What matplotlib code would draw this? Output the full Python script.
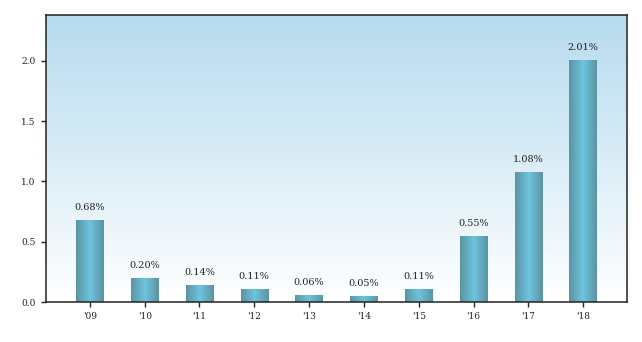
import numpy as np
import matplotlib
matplotlib.use("Agg")
import matplotlib.pyplot as plt
from matplotlib.colors import LinearSegmentedColormap

years = ["'09", "'10", "'11", "'12", "'13", "'14", "'15", "'16", "'17", "'18"]
values = [0.68, 0.20, 0.14, 0.11, 0.06, 0.05, 0.11, 0.55, 1.08, 2.01]
labels = ["0.68%", "0.20%", "0.14%", "0.11%", "0.06%", "0.05%", "0.11%", "0.55%", "1.08%", "2.01%"]

plt.rcParams['font.family'] = ['DejaVu Serif']

fig = plt.figure(figsize=(6.42, 3.42), dpi=100)
ax = fig.add_axes([46/642, 1-302/342, (627-46)/642, (302-15)/342])

x = np.arange(len(values))
ymax = 2.38
ax.set_xlim(-0.8, len(values) - 0.2)
ax.set_ylim(0, ymax)

# background gradient
bg = LinearSegmentedColormap.from_list("bg", [(0, "#ffffff"), (0.55, "#d6ebf6"), (1, "#b7dbef")])
grad = np.linspace(0, 1, 256).reshape(-1, 1)
ax.imshow(grad, cmap=bg, aspect='auto', extent=[-0.8, len(values) - 0.2, 0, ymax],
          origin='lower', zorder=0, vmin=0, vmax=1)

bars = ax.bar(x, values, width=0.5, color='none', zorder=2)
barcm = LinearSegmentedColormap.from_list("bar", ["#5a94a3", "#6cc4de", "#5a94a3"])
hgrad = np.linspace(0, 1, 256).reshape(1, -1)
for b in bars:
    x0, y0 = b.get_x(), b.get_y()
    w, h = b.get_width(), b.get_height()
    im = ax.imshow(hgrad, cmap=barcm, aspect='auto', extent=[x0, x0 + w, y0, y0 + h],
                   zorder=2, vmin=0, vmax=1)
    im.set_clip_path(b)

for xi, v, lab in zip(x, values, labels):
    ax.text(xi, v + 0.065, lab, ha='center', va='bottom', fontsize=7, color='#222222')

ax.set_xticks(x)
ax.set_xticklabels(years, fontsize=6.5, color='#222222')
ax.set_yticks([0, 0.5, 1.0, 1.5, 2.0])
ax.set_yticklabels(["0.0", "0.5", "1.0", "1.5", "2.0"], fontsize=6.5, color='#222222')
ax.tick_params(axis='both', length=3.5, width=1, color='#222222', pad=4)
for s in ax.spines.values():
    s.set_linewidth(1.1)
    s.set_color('#222222')

fig.savefig("out.png", dpi=100)
